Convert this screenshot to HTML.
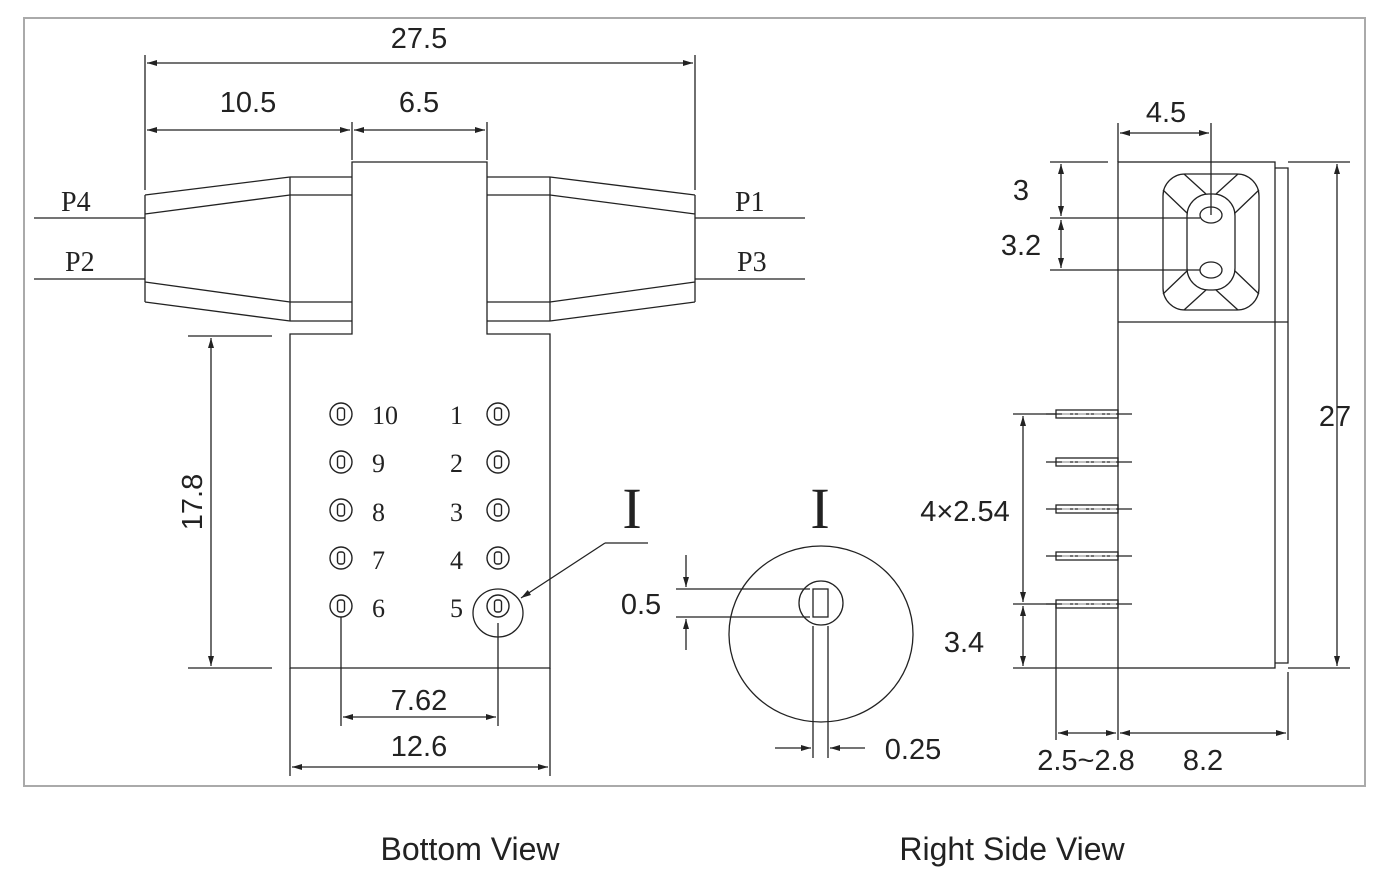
<!DOCTYPE html>
<html><head><meta charset="utf-8"><style>
html,body{margin:0;padding:0;background:#fff;width:1386px;height:886px;overflow:hidden}
svg{display:block}
.s{font-family:"Liberation Sans",sans-serif;fill:#222}
.r{font-family:"Liberation Serif",serif;fill:#222}
</style></head><body>
<svg width="1386" height="886" viewBox="0 0 1386 886" xmlns="http://www.w3.org/2000/svg">
<defs>
<marker id="a" viewBox="0 0 10 6" refX="10" refY="3" markerWidth="14" markerHeight="6" markerUnits="userSpaceOnUse" orient="auto-start-reverse"><path d="M0,0 L10,3 L0,6 z" fill="#222"/></marker>
</defs>
<rect x="24" y="18" width="1341" height="768" fill="none" stroke="#aaa" stroke-width="2"/>
<g stroke="#222" stroke-width="1.3" fill="none">
<path d="M145,195 L290,177 M145,214 L290,195 M145,302 L290,321 M145,282 L290,302 M145,195 V302"/>
<path d="M290,177 H352 M290,195 H352 M290,302 H352 M290,321 H352 M290,177 V321"/>
<path d="M695,195 L550,177 M695,214 L550,195 M695,302 L550,321 M695,282 L550,302 M695,195 V302"/>
<path d="M487,177 H550 M487,195 H550 M487,302 H550 M487,321 H550 M550,177 V321"/>
<path d="M352,334 V162 H487 V334 H550 V668 H290 V334 Z"/>
<path d="M34,218 H145 M34,279 H145 M695,218 H805 M695,279 H805"/>
<path d="M145,55 V190 M695,55 V190 M352,122 V160 M487,122 V160"/>
<path d="M147,63 H693" marker-start="url(#a)" marker-end="url(#a)"/>
<path d="M147,130 H350" marker-start="url(#a)" marker-end="url(#a)"/>
<path d="M354,130 H485" marker-start="url(#a)" marker-end="url(#a)"/>
<path d="M188,336 H272 M188,668 H272"/>
<path d="M211,338 V666" marker-start="url(#a)" marker-end="url(#a)"/>
<path d="M290,668 V776 M550,668 V776 M341,617 V726 M498,623 V726"/>
<path d="M343,717 H496" marker-start="url(#a)" marker-end="url(#a)"/>
<path d="M292,767 H548" marker-start="url(#a)" marker-end="url(#a)"/>
<ellipse cx="498" cy="613" rx="25" ry="24"/>
<path d="M605,543 H648"/>
<path d="M605,543 L521,598" marker-end="url(#a)"/>
<ellipse cx="821" cy="634" rx="92" ry="88"/>
<circle cx="821" cy="603" r="22"/>
<rect x="813" y="589" width="15" height="28"/>
<path d="M676,589 H810 M676,617 H810 M813,626 V758 M828,626 V758"/>
<path d="M686,555 V587" marker-end="url(#a)"/>
<path d="M686,650 V619" marker-end="url(#a)"/>
<path d="M775,748 H811" marker-end="url(#a)"/>
<path d="M865,748 H830" marker-end="url(#a)"/>
<rect x="1118" y="162" width="157" height="506"/>
<path d="M1118,322 H1288 M1275,168 H1288 V663 H1275"/>
<rect x="1163" y="174" width="96" height="136" rx="22"/>
<rect x="1187" y="194" width="48" height="96" rx="22"/>
<ellipse cx="1211" cy="215" rx="11" ry="8"/>
<ellipse cx="1211" cy="270" rx="11" ry="8"/>
<path d="M1163,190 L1187,213 M1259,190 L1235,213 M1163,294 L1187,271 M1259,294 L1235,271 M1184,174 L1206,194 M1238,174 L1216,194 M1184,310 L1206,290 M1238,310 L1216,290"/>
<path d="M1211,123 V215 M1118,123 V162 M1050,162 H1108 M1050,218 H1200 M1050,270 H1200"/>
<path d="M1120,133 H1209" marker-start="url(#a)" marker-end="url(#a)"/>
<path d="M1061,164 V216" marker-start="url(#a)" marker-end="url(#a)"/>
<path d="M1061,220 V268" marker-start="url(#a)" marker-end="url(#a)"/>
<g>
<rect x="1056" y="410" width="62" height="8"/><path d="M1046,414 H1132"/>
<rect x="1056" y="458" width="62" height="8"/><path d="M1046,462 H1132"/>
<rect x="1056" y="505" width="62" height="8"/><path d="M1046,509 H1132"/>
<rect x="1056" y="552" width="62" height="8"/><path d="M1046,556 H1132"/>
<rect x="1056" y="600" width="62" height="8"/><path d="M1046,604 H1132"/>
</g>
<path d="M1013,414 H1056 M1013,604 H1056 M1013,668 H1118"/>
<path d="M1023,416 V602" marker-start="url(#a)" marker-end="url(#a)"/>
<path d="M1023,606 V666" marker-start="url(#a)" marker-end="url(#a)"/>
<path d="M1056,604 V740 M1118,668 V740 M1288,672 V740 M1288,162 H1350 M1288,668 H1350"/>
<path d="M1058,733 H1116" marker-start="url(#a)" marker-end="url(#a)"/>
<path d="M1120,733 H1286" marker-start="url(#a)" marker-end="url(#a)"/>
<path d="M1337,164 V666" marker-start="url(#a)" marker-end="url(#a)"/>
</g>
<g stroke="#bbb" stroke-width="1" stroke-dasharray="8,3,2,3">
<path d="M1062,414 H1116 M1062,462 H1116 M1062,509 H1116 M1062,556 H1116 M1062,604 H1116"/>
</g>
<g stroke="#222" stroke-width="1.4" fill="none">
<g id="p"><circle cx="341" cy="414" r="11"/><rect x="337.5" y="408" width="7" height="12" rx="2.5"/></g>
<use href="#p" y="48"/><use href="#p" y="96"/><use href="#p" y="144"/><use href="#p" y="192"/>
<use href="#p" x="157"/><use href="#p" x="157" y="48"/><use href="#p" x="157" y="96"/><use href="#p" x="157" y="144"/><use href="#p" x="157" y="192"/>
</g>
<g class="r" font-size="26">
<text x="372" y="424">10</text><text x="372" y="472">9</text><text x="372" y="521">8</text><text x="372" y="569">7</text><text x="372" y="617">6</text>
<text x="450" y="424">1</text><text x="450" y="472">2</text><text x="450" y="521">3</text><text x="450" y="569">4</text><text x="450" y="617">5</text>
<text x="61" y="211" font-size="28">P4</text><text x="65" y="271" font-size="28">P2</text>
<text x="735" y="211" font-size="28">P1</text><text x="737" y="271" font-size="28">P3</text>
<text x="632" y="528" font-size="58" text-anchor="middle">I</text>
<text x="820" y="528" font-size="58" text-anchor="middle">I</text>
</g>
<g class="s" font-size="29" text-anchor="middle">
<text x="419" y="48">27.5</text>
<text x="248" y="112">10.5</text>
<text x="419" y="112">6.5</text>
<text transform="translate(202,502) rotate(-90)">17.8</text>
<text x="419" y="710">7.62</text>
<text x="419" y="756">12.6</text>
<text x="641" y="614">0.5</text>
<text x="913" y="759">0.25</text>
<text x="1166" y="122">4.5</text>
<text x="1021" y="200">3</text>
<text x="1021" y="255">3.2</text>
<text x="965" y="521">4×2.54</text>
<text x="964" y="652">3.4</text>
<text x="1086" y="770">2.5~2.8</text>
<text x="1203" y="770">8.2</text>
<text x="1335" y="426">27</text>
<text x="470" y="860" font-size="32">Bottom View</text>
<text x="1012" y="860" font-size="32">Right Side View</text>
</g>
</svg>
</body></html>
